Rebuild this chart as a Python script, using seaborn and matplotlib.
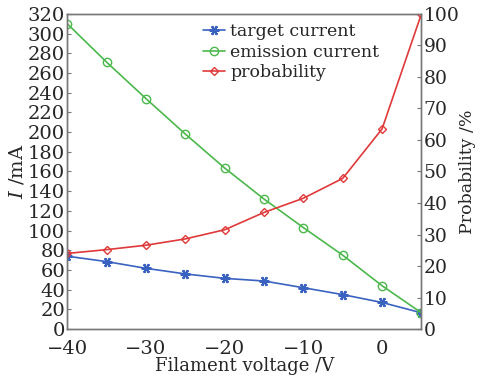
import matplotlib
matplotlib.use("Agg")
import matplotlib.pyplot as plt
import seaborn as sns
import pandas as pd

voltage = [-40, -35, -30, -25, -20, -15, -10, -5, 0, 5]
target_current = [74, 68.5, 61.7, 56, 51.5, 48.8, 42, 35, 27, 16.5]
emission_current = [310, 271, 234, 198, 163.5, 132, 103, 75, 44, 16.5]
probability = [24, 25.2, 26.6, 28.6, 31.5, 37, 41.5, 47.8, 63.5, 100]

sns.set_style("white")
plt.rcParams['font.family'] = ['DejaVu Serif']
plt.rcParams['mathtext.fontset'] = 'dejavuserif'

blue = "#3a62c0"
green = "#4cb84c"
red = "#e0393a"
axcol = "#777777"

fig = plt.figure(figsize=(4.8, 3.84), dpi=100)
ax = fig.add_axes([0.14, 0.143, 0.738, 0.821])
ax2 = ax.twinx()

df = pd.DataFrame({"v": voltage, "t": target_current, "e": emission_current, "p": probability})

sns.lineplot(data=df, x="v", y="t", ax=ax, color=blue, marker=(6, 2, 90), markersize=7,
             markeredgewidth=1.6, markeredgecolor=blue, lw=1.2, label="target current", legend=False)
sns.lineplot(data=df, x="v", y="e", ax=ax, color=green, marker="o", markersize=6,
             markerfacecolor="none", markeredgecolor=green, markeredgewidth=1.0, lw=1.2,
             label="emission current", legend=False)
sns.lineplot(data=df, x="v", y="p", ax=ax2, color=red, marker="D", markersize=4,
             markerfacecolor="none", markeredgecolor=red, markeredgewidth=1.0, lw=1.2,
             label="probability", legend=False)

ax.set_xlim(-40, 5)
ax.set_ylim(0, 320)
ax2.set_ylim(0, 100)
ax.set_xticks([-40, -30, -20, -10, 0])
ax.set_xticklabels(["\u221240", "\u221230", "\u221220", "\u221210", "0"])
ax.set_yticks(range(0, 321, 20))
ax2.set_yticks(range(0, 101, 10))

for a in (ax, ax2):
    for s in a.spines.values():
        s.set_color(axcol)
        s.set_linewidth(1.0)
    a.tick_params(direction="in", length=3, width=0.8, color=axcol, labelsize=14, pad=1.5)
ax.tick_params(axis="x", pad=8)
ax2.tick_params(axis="y", labelsize=13.5)

ax.set_xlabel("Filament voltage /V", fontsize=13, labelpad=-1)
ax.set_ylabel(r"$I$ /mA", fontsize=14, labelpad=1)
ax2.set_ylabel("Probability /%", fontsize=12.5, labelpad=0)

h1, l1 = ax.get_legend_handles_labels()
h2, l2 = ax2.get_legend_handles_labels()
ax.legend(h1 + h2, l1 + l2, loc="upper left", bbox_to_anchor=(0.355, 1.0), frameon=False,
          fontsize=12.5, handlelength=1.3, handletextpad=0.3, labelspacing=0.2, borderaxespad=0.15)

fig.savefig("out.png", dpi=100)
